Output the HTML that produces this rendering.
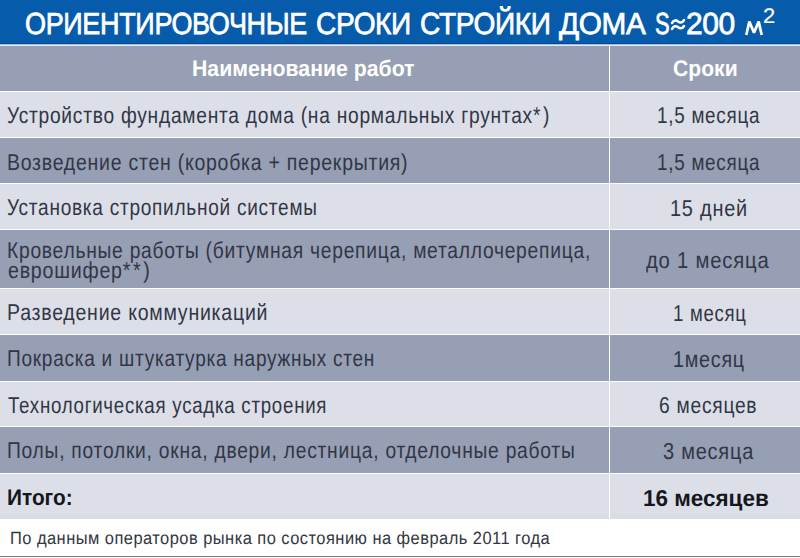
<!DOCTYPE html>
<html><head><meta charset="utf-8">
<style>
html,body{margin:0;padding:0;}
body{width:800px;height:558px;position:relative;overflow:hidden;background:#fff;font-family:"Liberation Sans",sans-serif;}
.b{position:absolute;left:0;width:800px;}
.t{position:absolute;white-space:nowrap;line-height:1;transform-origin:0 0;text-rendering:geometricPrecision;}
</style></head><body>
<div class="b" style="top:0px;height:43px;background:#065bab"></div>
<div class="b" style="top:43px;height:1px;background:#0049a0"></div>
<div class="b" style="top:44px;height:1px;background:#a9c0d8"></div>
<div class="b" style="top:45px;height:1px;background:#e6e9ec"></div>
<div class="b" style="top:46px;height:45px;background:#969fb3"></div>
<div class="b" style="top:91px;height:1px;background:#fdfdfe"></div>
<div class="b" style="top:92px;height:45px;background:#dcdfe7"></div>
<div class="b" style="top:137px;height:1px;background:#fdfdfe"></div>
<div class="b" style="top:138px;height:45px;background:#969fb3"></div>
<div class="b" style="top:183px;height:1px;background:#fdfdfe"></div>
<div class="b" style="top:184px;height:45px;background:#dcdfe7"></div>
<div class="b" style="top:229px;height:1px;background:#fdfdfe"></div>
<div class="b" style="top:230px;height:58px;background:#969fb3"></div>
<div class="b" style="top:288px;height:1px;background:#fdfdfe"></div>
<div class="b" style="top:289px;height:45px;background:#dcdfe7"></div>
<div class="b" style="top:334px;height:1px;background:#fdfdfe"></div>
<div class="b" style="top:335px;height:46px;background:#969fb3"></div>
<div class="b" style="top:381px;height:1px;background:#fdfdfe"></div>
<div class="b" style="top:382px;height:44px;background:#dcdfe7"></div>
<div class="b" style="top:426px;height:1px;background:#fdfdfe"></div>
<div class="b" style="top:427px;height:46px;background:#969fb3"></div>
<div class="b" style="top:473px;height:1px;background:#fdfdfe"></div>
<div class="b" style="top:474px;height:45px;background:#dcdfe7"></div>
<div class="b" style="top:514px;height:5px;background:#d9dce4"></div>
<div class="b" style="top:556px;height:1px;background:#7a7a7a"></div>
<div style="position:absolute;left:609px;top:46px;width:1px;height:473px;background:#fdfdfe"></div>
<div class="t" style="left:25.00px;top:9.00px;font-size:30.5px;color:#fff;font-weight:normal;transform:scaleX(0.8855);letter-spacing:-0.4px;-webkit-text-stroke:0.75px #fff">ОРИЕНТИРОВОЧНЫЕ</div>
<div class="t" style="left:316.00px;top:9.00px;font-size:30.5px;color:#fff;font-weight:normal;transform:scaleX(0.9202);letter-spacing:-0.4px;-webkit-text-stroke:0.75px #fff">СРОКИ</div>
<div class="t" style="left:420.00px;top:9.00px;font-size:30.5px;color:#fff;font-weight:normal;transform:scaleX(0.9203);letter-spacing:-0.4px;-webkit-text-stroke:0.75px #fff">СТРОЙКИ</div>
<div class="t" style="left:559.00px;top:9.00px;font-size:30.5px;color:#fff;font-weight:normal;transform:scaleX(0.9755);letter-spacing:-0.4px;-webkit-text-stroke:0.75px #fff">ДОМА</div>
<div class="t" style="left:655.00px;top:9.00px;font-size:30.5px;color:#fff;font-weight:normal;transform:scaleX(0.7203);letter-spacing:-0.4px;-webkit-text-stroke:0.75px #fff">S</div>
<div class="t" style="left:686.00px;top:9.00px;font-size:30.5px;color:#fff;font-weight:normal;transform:scaleX(0.9846);letter-spacing:-0.4px;-webkit-text-stroke:0.75px #fff">200</div>
<div class="t" style="left:763.00px;top:6.00px;font-size:21px;color:#fff;font-weight:normal;transform:scaleX(1.0428);letter-spacing:0px;-webkit-text-stroke:0.2px #fff">2</div>
<div class="t" style="left:192.00px;top:58.00px;font-size:22.5px;color:#fff;font-weight:bold;transform:scaleX(0.9442);letter-spacing:0px;">Наименование работ</div>
<div class="t" style="left:673.00px;top:58.00px;font-size:22.5px;color:#fff;font-weight:bold;transform:scaleX(0.9394);letter-spacing:0px;">Сроки</div>
<div class="t" style="left:6.80px;top:104.00px;font-size:23px;color:#323646;font-weight:normal;transform:scaleX(0.8341);letter-spacing:0.9px;">Устройство фундамента дома (на нормальных грунтах<span style="letter-spacing:3px">*</span>)</div>
<div class="t" style="left:657.00px;top:104.00px;font-size:23px;color:#323646;font-weight:normal;transform:scaleX(0.8197);letter-spacing:0.9px;">1,5 месяца</div>
<div class="t" style="left:6.80px;top:151.00px;font-size:23px;color:#323646;font-weight:normal;transform:scaleX(0.8462);letter-spacing:0.9px;">Возведение стен (коробка + перекрытия)</div>
<div class="t" style="left:657.00px;top:151.00px;font-size:23px;color:#323646;font-weight:normal;transform:scaleX(0.8197);letter-spacing:0.9px;">1,5 месяца</div>
<div class="t" style="left:6.80px;top:196.00px;font-size:23px;color:#323646;font-weight:normal;transform:scaleX(0.8274);letter-spacing:0.9px;">Установка стропильной системы</div>
<div class="t" style="left:670.00px;top:197.00px;font-size:23px;color:#323646;font-weight:normal;transform:scaleX(0.8666);letter-spacing:0.9px;">15 дней</div>
<div class="t" style="left:6.80px;top:239.00px;font-size:23px;color:#323646;font-weight:normal;transform:scaleX(0.8361);letter-spacing:0.9px;">Кровельные работы (битумная черепица, металлочерепица,</div>
<div class="t" style="left:7.80px;top:259.00px;font-size:23px;color:#323646;font-weight:normal;transform:scaleX(0.8531);letter-spacing:0.9px;">еврошифер<span style="letter-spacing:3px">**</span>)</div>
<div class="t" style="left:646.00px;top:249.00px;font-size:23px;color:#323646;font-weight:normal;transform:scaleX(0.8810);letter-spacing:0.9px;">до 1 месяца</div>
<div class="t" style="left:6.80px;top:301.00px;font-size:23px;color:#323646;font-weight:normal;transform:scaleX(0.8486);letter-spacing:0.9px;">Разведение коммуникаций</div>
<div class="t" style="left:673.00px;top:302.00px;font-size:23px;color:#323646;font-weight:normal;transform:scaleX(0.8081);letter-spacing:0.9px;">1 месяц</div>
<div class="t" style="left:6.80px;top:347.00px;font-size:23px;color:#323646;font-weight:normal;transform:scaleX(0.8277);letter-spacing:0.9px;">Покраска и штукатурка наружных стен</div>
<div class="t" style="left:673.00px;top:348.00px;font-size:23px;color:#323646;font-weight:normal;transform:scaleX(0.8565);letter-spacing:0.9px;">1месяц</div>
<div class="t" style="left:7.80px;top:394.00px;font-size:23px;color:#323646;font-weight:normal;transform:scaleX(0.8128);letter-spacing:0.9px;">Технологическая усадка строения</div>
<div class="t" style="left:659.00px;top:394.00px;font-size:23px;color:#323646;font-weight:normal;transform:scaleX(0.8349);letter-spacing:0.9px;">6 месяцев</div>
<div class="t" style="left:6.80px;top:439.00px;font-size:23px;color:#323646;font-weight:normal;transform:scaleX(0.8364);letter-spacing:0.9px;">Полы, потолки, окна, двери, лестница, отделочные работы</div>
<div class="t" style="left:663.00px;top:440.00px;font-size:23px;color:#323646;font-weight:normal;transform:scaleX(0.8680);letter-spacing:0.9px;">3 месяца</div>
<div class="t" style="left:7.00px;top:487.00px;font-size:22.5px;color:#15171c;font-weight:bold;transform:scaleX(0.9256);letter-spacing:0px;">Итого:</div>
<div class="t" style="left:643.00px;top:487.00px;font-size:23px;color:#15171c;font-weight:bold;transform:scaleX(0.9764);letter-spacing:0px;">16 месяцев</div>
<div class="t" style="left:10.00px;top:530.00px;font-size:17.8px;color:#33363d;font-weight:normal;transform:scaleX(0.9255);letter-spacing:0.5px;">По данным операторов рынка по состоянию на февраль 2011 года</div>
<svg style="position:absolute;left:0;top:0" width="800" height="44"><polyline points="746.3,35 749.3,21.6 754,32.6 758.7,21.6 761.7,35" fill="none" stroke="#fff" stroke-width="2.7" stroke-linejoin="bevel"/><path transform="translate(0,0.6)" d="M672,22.4 C673.8,19.4 676,19.2 678,20.8 C680,22.4 682.3,22.4 684,19.6 M672,28.2 C673.8,25.2 676,25 678,26.6 C680,28.2 682.3,28.2 684,25.4" fill="none" stroke="#fff" stroke-width="2.6" stroke-linecap="round"/></svg>
</body></html>
